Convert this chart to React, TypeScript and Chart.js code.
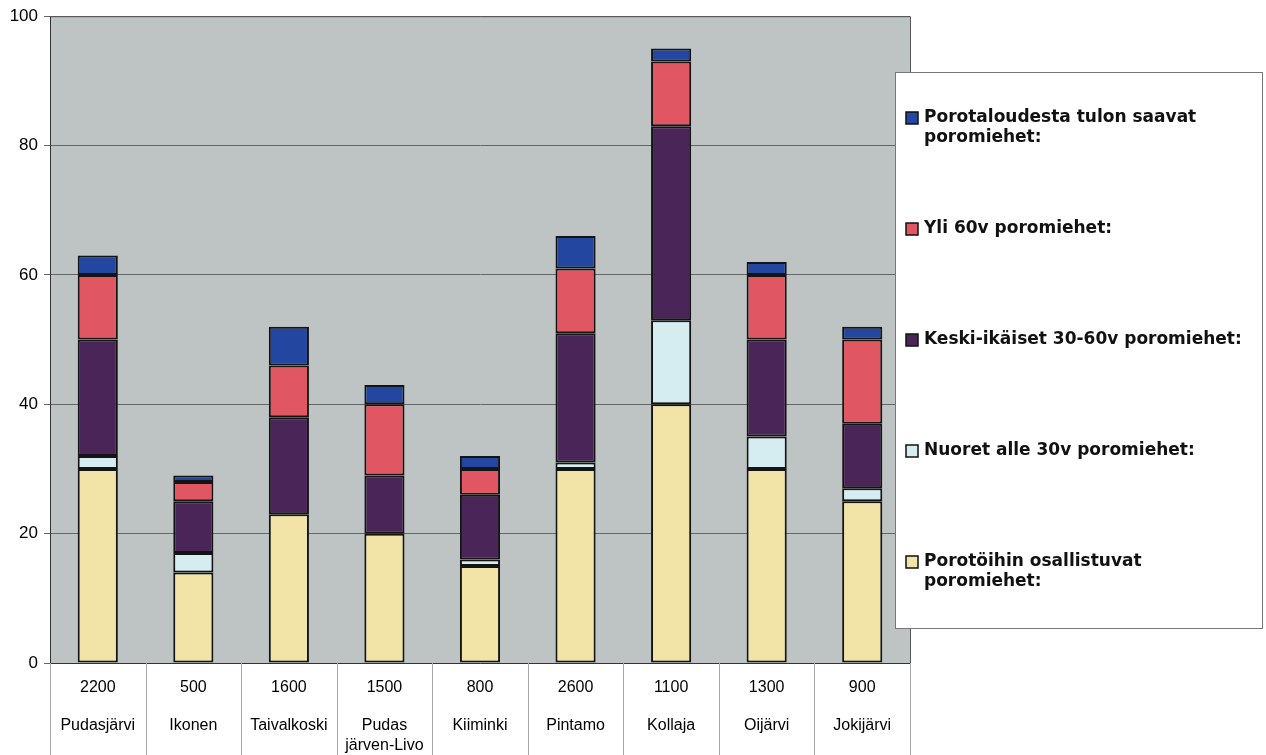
import React, { useEffect, useRef } from 'react';
import { Chart, registerables } from 'chart.js';

Chart.register(...registerables);

// ---- data ----
const herdSizes: string[] = ['2200', '500', '1600', '1500', '800', '2600', '1100', '1300', '900'];
const districts: (string | string[])[] = [
  'Pudasjärvi', 'Ikonen', 'Taivalkoski', ['Pudas', 'järven-Livo'], 'Kiiminki',
  'Pintamo', 'Kollaja', 'Oijärvi', 'Jokijärvi',
];
const participating: number[] = [30, 14, 23, 20, 15, 30, 40, 30, 25];
const youngUnder30: number[] = [2, 3, 0, 0, 1, 1, 13, 5, 2];
const middleAged: number[] = [18, 8, 15, 9, 10, 20, 30, 15, 10];
const over60: number[] = [10, 3, 8, 11, 4, 10, 10, 10, 13];
const incomeEarners: number[] = [3, 1, 6, 3, 2, 5, 2, 2, 2];
const seriesLabels: string[] = [
  'Porotöihin osallistuvat poromiehet:',
  'Nuoret alle 30v poromiehet:',
  'Keski-ikäiset 30-60v poromiehet:',
  'Yli 60v poromiehet:',
  'Porotaloudesta tulon saavat poromiehet:',
];
const seriesColors: string[] = ['#F2E3A6', '#D5EDF0', '#4A2558', '#E15663', '#2347A0'];
const yMin = 0;
const yMax = 100;
const yStep = 20;

const FONT_ARIAL = '"Liberation Sans", Arial, sans-serif';

const backgroundPlugin = {
  id: 'plotBackground',
  beforeDraw(chart: any) {
    const { ctx, chartArea } = chart;
    ctx.save();
    ctx.fillStyle = '#ffffff';
    ctx.fillRect(0, 0, chart.width, chart.height);
    ctx.fillStyle = '#BEC3C3';
    ctx.fillRect(chartArea.left, chartArea.top, chartArea.right - chartArea.left, chartArea.bottom - chartArea.top);
    ctx.restore();
  },
  afterDraw(chart: any) {
    const { ctx, chartArea } = chart;
    const xs = chart.scales.x;
    const n = chart.data.labels.length;
    ctx.save();
    // plot border
    ctx.strokeStyle = '#555';
    ctx.lineWidth = 1;
    ctx.beginPath();
    ctx.moveTo(chartArea.left, chartArea.top + 0.5);
    ctx.lineTo(chartArea.right + 0.5, chartArea.top + 0.5);
    ctx.lineTo(chartArea.right + 0.5, chartArea.bottom);
    ctx.stroke();
    // category separators in label table
    ctx.strokeStyle = '#A8A8A8';
    for (let i = 0; i <= n; i++) {
      let x: number;
      if (i === 0) x = xs.getPixelForValue(0) - (xs.getPixelForValue(1) - xs.getPixelForValue(0)) / 2;
      else if (i === n) x = xs.getPixelForValue(n - 1) + (xs.getPixelForValue(n - 1) - xs.getPixelForValue(n - 2)) / 2;
      else x = (xs.getPixelForValue(i - 1) + xs.getPixelForValue(i)) / 2;
      x = Math.round(x) + 0.5;
      ctx.beginPath();
      ctx.moveTo(x, chartArea.bottom);
      ctx.lineTo(x, chart.height);
      ctx.stroke();
    }
    // legend box
    const bx = 895, by = 72, bw = 367, bh = 556;
    ctx.fillStyle = '#ffffff';
    ctx.fillRect(bx, by, bw, bh);
    ctx.strokeStyle = '#777';
    ctx.lineWidth = 1;
    ctx.strokeRect(bx + 0.5, by + 0.5, bw, bh);
    ctx.font = 'bold 17px "DejaVu Sans", Verdana, sans-serif';
    ctx.textBaseline = 'middle';
    ctx.textAlign = 'left';
    const ds = chart.data.datasets;
    const maxW = 334;
    for (let k = 0; k < ds.length; k++) {
      const d = ds[ds.length - 1 - k];
      const cy = 118 + k * 111;
      // marker
      ctx.fillStyle = d.backgroundColor;
      ctx.fillRect(906, cy - 6, 12, 12);
      ctx.strokeStyle = '#111';
      ctx.lineWidth = 1.5;
      ctx.strokeRect(906, cy - 6, 12, 12);
      // wrapped text
      const words = String(d.label).split(' ');
      const lines: string[] = [];
      let cur = '';
      for (const w of words) {
        const test = cur ? cur + ' ' + w : w;
        if (ctx.measureText(test).width > maxW && cur) {
          lines.push(cur);
          cur = w;
        } else cur = test;
      }
      if (cur) lines.push(cur);
      ctx.fillStyle = '#111';
      lines.forEach((ln, j) => ctx.fillText(ln, 924, cy + j * 20));
    }
    ctx.restore();
  },
};

export default function App() {
  const canvasRef = useRef<HTMLCanvasElement | null>(null);

  useEffect(() => {
    document.body.style.margin = '0';
    const canvas = canvasRef.current;
    if (!canvas) return;
    const series = [participating, youngUnder30, middleAged, over60, incomeEarners];
    const chart = new Chart(canvas, {
      type: 'bar',
      data: {
        labels: herdSizes,
        datasets: series.map((values, i) => ({
          label: seriesLabels[i],
          data: values,
          backgroundColor: seriesColors[i],
          borderColor: '#141414',
          borderWidth: 2,
          borderSkipped: false,
          barPercentage: 0.42,
          categoryPercentage: 1,
        })),
      },
      options: {
        responsive: false,
        animation: false,
        devicePixelRatio: 1,
        layout: { padding: { left: 0, right: 356, top: 15, bottom: 0 } },
        plugins: {
          legend: { display: false },
          tooltip: { enabled: false },
        },
        scales: {
          x: {
            stacked: true,
            offset: true,
            grid: { display: false, drawTicks: false },
            border: { display: true, color: '#333', width: 1 },
            ticks: {
              font: { family: FONT_ARIAL, size: 16 },
              color: '#000',
              padding: 15,
              maxRotation: 0,
              autoSkip: false,
            },
            afterFit(scale: any) { scale.height = 35; },
          },
          x2: {
            type: 'category',
            labels: districts as any,
            position: 'bottom',
            offset: true,
            grid: { display: false, drawTicks: false },
            border: { display: false },
            ticks: {
              font: { family: FONT_ARIAL, size: 16, lineHeight: 1.25 },
              color: '#000',
              padding: 18,
              maxRotation: 0,
              autoSkip: false,
            },
            afterFit(scale: any) { scale.height = 57; },
          },
          y: {
            stacked: true,
            min: yMin,
            max: yMax,
            grid: { color: '#666', lineWidth: 1, tickLength: 6, drawTicks: true },
            border: { display: true, color: '#333', width: 1 },
            ticks: {
              stepSize: yStep,
              font: { family: FONT_ARIAL, size: 17 },
              color: '#000',
              padding: 6,
            },
            afterFit(scale: any) { scale.width = 50; },
          },
        },
      },
      plugins: [backgroundPlugin],
    });
    return () => chart.destroy();
  }, []);

  return (
    <div style={{ width: 1266, height: 755 }}>
      <canvas ref={canvasRef} width={1266} height={755} />
    </div>
  );
}
